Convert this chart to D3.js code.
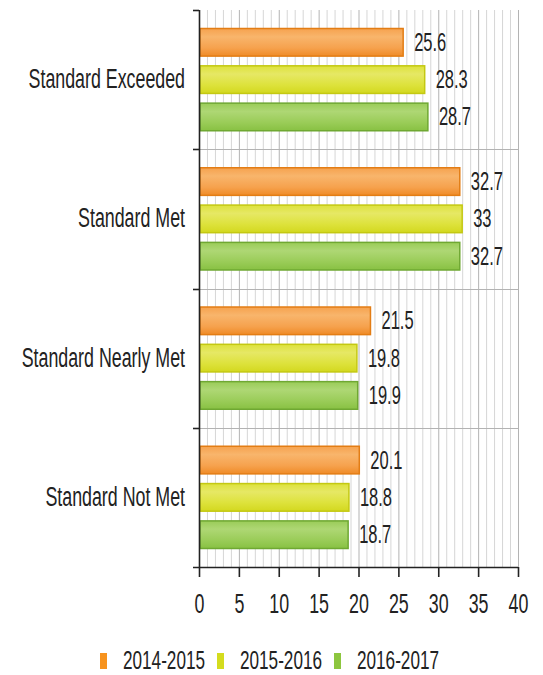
<!DOCTYPE html>
<html>
<head>
<meta charset="utf-8">
<script src="https://cdn.jsdelivr.net/npm/d3@7"></script>
<style>
  html, body { margin: 0; padding: 0; background: #fff; }
  svg { display: block; font-family: "Liberation Sans", Arial, sans-serif; }
</style>
</head>
<body>
<svg id="chart" width="543" height="675"></svg>
<script>
// Score distribution by achievement level, three school years
const categories = ["Standard Exceeded", "Standard Met", "Standard Nearly Met", "Standard Not Met"];
const seriesNames = ["2014-2015", "2015-2016", "2016-2017"];
const values2014 = [25.6, 32.7, 21.5, 20.1];
const values2015 = [28.3, 33, 19.8, 18.8];
const values2016 = [28.7, 32.7, 19.9, 18.7];
const xTicks = [0, 5, 10, 15, 20, 25, 30, 35, 40];

const seriesValues = [values2014, values2015, values2016];
const palette = [
  { top: "#f8b56c", mid: "#f6a24e", bottom: "#ef8b27", stroke: "#e37d14", swatch: "#f7931e" },
  { top: "#e6e865", mid: "#dde23b", bottom: "#d3d81f", stroke: "#c4c812", swatch: "#d4dc1e" },
  { top: "#aed774", mid: "#9acc58", bottom: "#88c143", stroke: "#6fa832", swatch: "#8dc63f" }
];

const W = 543, H = 675;
const margin = { top: 10, right: 25, bottom: 108, left: 199 };
const innerW = W - margin.left - margin.right;
const innerH = H - margin.top - margin.bottom;
const SX = 0.66; // condensed text

const svg = d3.select("#chart");
const defs = svg.append("defs");
palette.forEach((p, i) => {
  const g = defs.append("linearGradient").attr("id", "grad" + i)
    .attr("x1", 0).attr("y1", 0).attr("x2", 0).attr("y2", 1);
  g.append("stop").attr("offset", "0%").attr("stop-color", p.mid);
  g.append("stop").attr("offset", "30%").attr("stop-color", p.top);
  g.append("stop").attr("offset", "70%").attr("stop-color", p.mid);
  g.append("stop").attr("offset", "100%").attr("stop-color", p.bottom);
});

const g = svg.append("g").attr("transform", `translate(${margin.left},${margin.top})`);

const x = d3.scaleLinear().domain([0, 40]).range([0, innerW]);
const y = d3.scaleBand().domain(categories).range([0, innerH]).paddingInner(0).paddingOuter(0);
const B = y.bandwidth();
const y1 = d3.scaleBand().domain(seriesNames).range([18.5, B - 18.5]).paddingInner(0.26).paddingOuter(0);

// minor / major vertical grid
const gridVals = d3.range(1, 41);
g.append("g").selectAll("line").data(gridVals).join("line")
  .attr("x1", d => x(d) + 0.5).attr("x2", d => x(d) + 0.5)
  .attr("y1", 0).attr("y2", innerH)
  .attr("stroke", d => d % 5 === 0 ? "#b3b3b3" : "#d6d6d6")
  .attr("stroke-width", 1);

// horizontal lines between categories
const bounds = categories.slice(1).map(c => y(c));
g.append("g").selectAll("line").data(bounds).join("line")
  .attr("x1", 0).attr("x2", innerW)
  .attr("y1", d => Math.round(d) + 0.5).attr("y2", d => Math.round(d) + 0.5)
  .attr("stroke", "#b3b3b3");

// bars
const groups = g.append("g").selectAll("g").data(categories).join("g")
  .attr("transform", c => `translate(0,${y(c)})`);

groups.each(function(c, ci) {
  const grp = d3.select(this);
  seriesNames.forEach((s, si) => {
    const v = seriesValues[si][ci];
    grp.append("rect")
      .attr("x", x(0) + 1)
      .attr("y", y1(s))
      .attr("width", x(v) - x(0) - 1)
      .attr("height", y1.bandwidth())
      .attr("fill", `url(#grad${si})`)
      .attr("stroke", palette[si].stroke)
      .attr("stroke-width", 1.5);
    grp.append("text")
      .attr("transform", `translate(${x(v) + 11},${y1(s) + y1.bandwidth() / 2 + 8.5}) scale(${SX},1)`)
      .attr("font-size", 25)
      .attr("fill", "#222")
      .text(v);
  });
});

// bottom axis
const xAxis = g.append("g").attr("transform", `translate(0,${innerH})`)
  .call(d3.axisBottom(x).tickValues(xTicks).tickSize(10).tickSizeOuter(0));
xAxis.select(".domain").attr("d", `M-6,0.5H${innerW}`).attr("stroke", "#222").attr("stroke-width", 1.6);
xAxis.selectAll(".tick line").attr("stroke", "#222").attr("stroke-width", 1.6);
xAxis.selectAll(".tick text")
  .attr("y", 46).attr("dy", 0)
  .attr("transform", `scale(${SX},1)`)
  .attr("font-size", 27)
  .attr("fill", "#222")
  .attr("font-family", "Liberation Sans, Arial, sans-serif");

// left axis with ticks on category boundaries
const yAxis = g.append("g")
  .call(d3.axisLeft(y).tickSize(0).tickSizeOuter(0));
yAxis.select(".domain").remove();
yAxis.selectAll(".tick text")
  .attr("x", -14 / SX).attr("dy", 8.5)
  .attr("transform", `scale(${SX},1)`)
  .attr("font-size", 27)
  .attr("fill", "#222")
  .attr("font-family", "Liberation Sans, Arial, sans-serif");
g.append("line").attr("x1", 0.5).attr("x2", 0.5).attr("y1", 0).attr("y2", innerH)
  .attr("stroke", "#222").attr("stroke-width", 1.6);
const edgeVals = [0].concat(bounds);
g.append("g").selectAll("line").data(edgeVals).join("line")
  .attr("x1", -6).attr("x2", 0)
  .attr("y1", d => Math.round(d) + 0.5).attr("y2", d => Math.round(d) + 0.5)
  .attr("stroke", "#222").attr("stroke-width", 1.6);

// legend
const legend = svg.append("g").attr("transform", "translate(100,653)");
const items = legend.selectAll("g").data(seriesNames).join("g")
  .attr("transform", (d, i) => `translate(${i * 117},0)`);
items.append("rect").attr("x", 0).attr("y", 0).attr("width", 7).attr("height", 16)
  .attr("fill", (d, i) => palette[i].swatch);
items.append("text")
  .attr("transform", `translate(23,16) scale(${SX},1)`)
  .attr("font-size", 26)
  .attr("fill", "#222")
  .text(d => d);
</script>
</body>
</html>
